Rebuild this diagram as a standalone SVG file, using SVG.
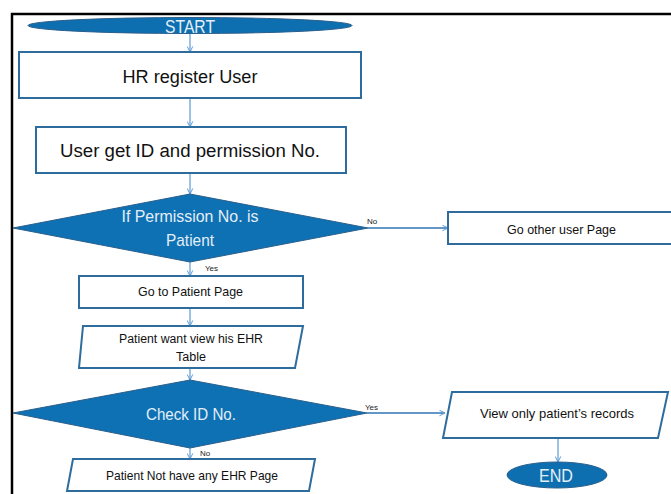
<svg xmlns="http://www.w3.org/2000/svg" width="671" height="494" viewBox="0 0 671 494">
<defs>
<style>
.box{fill:#fff;stroke:#2D6C9C;stroke-width:2}
.term{fill:#0E6FB0;stroke:#2A5F8C;stroke-width:1}
.dia{fill:#0E71B3;stroke:#2A5F8C;stroke-width:1}
.t{font-family:"Liberation Sans",Arial,sans-serif;fill:#111;text-anchor:middle}
.w{font-family:"Liberation Sans",Arial,sans-serif;fill:#E4EEF8;text-anchor:middle}
.lbl{font-family:"Liberation Sans",Arial,sans-serif;fill:#222;font-size:8px}
.c{fill:none;stroke:#5B9BD5;stroke-width:1.2}
.ch{fill:none;stroke:#2E75B6;stroke-width:1.4}
</style>
<marker id="ah" viewBox="0 0 10 10" refX="9" refY="5" markerWidth="7" markerHeight="7" orient="auto" markerUnits="userSpaceOnUse">
<path d="M1,1 L9,5 L1,9" fill="none" stroke="#5B9BD5" stroke-width="1.4"/>
</marker>
</defs>
<rect width="671" height="494" fill="#fff"/>
<path d="M12,494 V14 H671" fill="none" stroke="#000" stroke-width="2.5"/>

<g id="connectors">
<line class="c" x1="190" y1="33" x2="190" y2="52" marker-end="url(#ah)"/>
<line class="c" x1="190" y1="98" x2="190" y2="127" marker-end="url(#ah)"/>
<line class="c" x1="190" y1="173" x2="190" y2="194" marker-end="url(#ah)"/>
<line class="c" x1="190" y1="262" x2="190" y2="276" marker-end="url(#ah)"/>
<line class="c" x1="190" y1="308" x2="190" y2="326" marker-end="url(#ah)"/>
<line class="c" x1="190" y1="368" x2="190" y2="380" marker-end="url(#ah)"/>
<line class="c" x1="190" y1="448" x2="190" y2="459" marker-end="url(#ah)"/>
<line class="ch" x1="368" y1="228" x2="448" y2="228" marker-end="url(#ah)"/>
<line class="ch" x1="367" y1="413" x2="445" y2="413" marker-end="url(#ah)"/>
<line class="c" x1="558" y1="438" x2="558" y2="462" marker-end="url(#ah)"/>
<text class="lbl" x="367" y="224">No</text>
<text class="lbl" x="205" y="271">Yes</text>
<text class="lbl" x="365" y="410">Yes</text>
<text class="lbl" x="200" y="456">No</text>
</g>

<g id="start">
<ellipse class="term" cx="190" cy="25.5" rx="162" ry="8"/>
<text class="w" x="190" y="33" font-size="19" textLength="50" lengthAdjust="spacingAndGlyphs">START</text>
</g>

<g id="hr-register">
<rect class="box" x="19" y="52" width="342" height="46"/>
<text class="t" x="190" y="83" font-size="18" textLength="135" lengthAdjust="spacingAndGlyphs">HR register User</text>
</g>

<g id="user-get-id">
<rect class="box" x="36" y="127" width="310" height="46"/>
<text class="t" x="190" y="157" font-size="18" textLength="260" lengthAdjust="spacingAndGlyphs">User get ID and permission No.</text>
</g>

<g id="decision-permission">
<polygon class="dia" points="190,194 368,228 190,262 13,228"/>
<text class="w" x="190" y="222" font-size="17" textLength="137" lengthAdjust="spacingAndGlyphs">If  Permission No. is</text>
<text class="w" x="190" y="246" font-size="17" textLength="48" lengthAdjust="spacingAndGlyphs">Patient</text>
</g>

<g id="go-other">
<rect class="box" x="448" y="212" width="230" height="32"/>
<text class="t" x="561.5" y="234" font-size="13" textLength="109" lengthAdjust="spacingAndGlyphs">Go other user Page</text>
</g>

<g id="go-patient">
<rect class="box" x="79" y="276" width="224" height="32"/>
<text class="t" x="190.5" y="296" font-size="13" textLength="105" lengthAdjust="spacingAndGlyphs">Go to Patient Page</text>
</g>

<g id="patient-want">
<polygon class="box" points="83,326 303,326 295,368 79,368"/>
<text class="t" x="191" y="343" font-size="12" textLength="144" lengthAdjust="spacingAndGlyphs">Patient want view his EHR</text>
<text class="t" x="191" y="361" font-size="12" textLength="30" lengthAdjust="spacingAndGlyphs">Table</text>
</g>

<g id="decision-check-id">
<polygon class="dia" points="190,380 367,413 190,448 13,413"/>
<text class="w" x="191" y="420" font-size="17" textLength="90" lengthAdjust="spacingAndGlyphs">Check ID No.</text>
</g>

<g id="no-ehr">
<polygon class="box" points="73,459 315,459 309,491 67,491"/>
<text class="t" x="192" y="480" font-size="13" textLength="172" lengthAdjust="spacingAndGlyphs">Patient Not have any EHR Page</text>
</g>

<g id="view-records">
<polygon class="box" points="452,392 668,392 658,438 443,438"/>
<text class="t" x="557" y="418" font-size="13" textLength="154" lengthAdjust="spacingAndGlyphs">View only patient’s records</text>
</g>

<g id="end">
<ellipse class="term" cx="557" cy="475" rx="50" ry="13"/>
<text class="w" x="556" y="482" font-size="19" textLength="34" lengthAdjust="spacingAndGlyphs">END</text>
</g>
</svg>
